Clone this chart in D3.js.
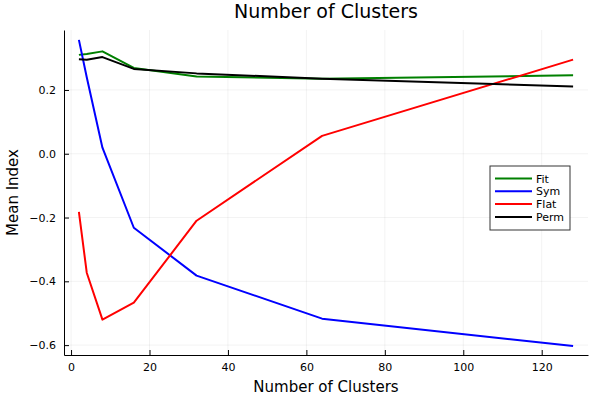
<!DOCTYPE html>
<html>
<head>
<meta charset="utf-8">
<script src="https://cdn.jsdelivr.net/npm/d3@7"></script>
<style>
  body { margin: 0; background: #fff; }
  text { font-family: "DejaVu Sans", sans-serif; }
</style>
</head>
<body>
<svg id="chart" width="600" height="400"></svg>
<script>
// Data
const clusters = [2, 4, 8, 16, 32, 64, 128];
const fit  = [0.310, 0.313, 0.321, 0.269, 0.242, 0.235, 0.246];
const sym  = [0.357, 0.240, 0.019, -0.232, -0.382, -0.517, -0.603];
const flat = [-0.182, -0.373, -0.520, -0.467, -0.210, 0.056, 0.295];
const perm = [0.296, 0.295, 0.303, 0.266, 0.252, 0.235, 0.211];
const seriesNames = ["Fit", "Sym", "Flat", "Perm"];
const seriesColors = ["#008000", "#0000ff", "#ff0000", "#000000"];
const xTicks = [0, 20, 40, 60, 80, 100, 120];
const yTicks = [-0.6, -0.4, -0.2, 0.0, 0.2];

const svg = d3.select("#chart");
const margin = { left: 64, right: 12, top: 30, bottom: 45 };
const width = 600, height = 400;

const x = d3.scaleLinear().domain([-1.8, 131.8]).range([margin.left, width - margin.right]);
const y = d3.scaleLinear().domain([-0.631, 0.388]).range([height - margin.bottom, margin.top]);

// Grid
svg.append("g")
  .selectAll("line.gx")
  .data(xTicks)
  .enter().append("line")
  .attr("x1", d => x(d)).attr("x2", d => x(d))
  .attr("y1", y.range()[0]).attr("y2", y.range()[1])
  .attr("stroke", "#000").attr("stroke-opacity", 0.1).attr("stroke-width", 0.5);
svg.append("g")
  .selectAll("line.gy")
  .data(yTicks)
  .enter().append("line")
  .attr("x1", x.range()[0]).attr("x2", x.range()[1])
  .attr("y1", d => y(d)).attr("y2", d => y(d))
  .attr("stroke", "#000").attr("stroke-opacity", 0.1).attr("stroke-width", 0.5);

// Axes
const fmtY = d => (d < 0 ? "\u2212" : "") + Math.abs(d).toFixed(1);
const xAxis = svg.append("g")
  .attr("transform", `translate(0,${y.range()[0]})`)
  .call(d3.axisBottom(x).tickValues(xTicks).tickSize(-5).tickPadding(8).tickSizeOuter(0));
const yAxis = svg.append("g")
  .attr("transform", `translate(${x.range()[0]},0)`)
  .call(d3.axisLeft(y).tickValues(yTicks).tickFormat(fmtY).tickSize(-5).tickPadding(8).tickSizeOuter(0));
[xAxis, yAxis].forEach(a => {
  a.select(".domain").attr("stroke", "#000").attr("stroke-width", 1);
  a.selectAll(".tick line").attr("stroke", "#000");
  a.selectAll(".tick text").attr("font-size", 11).attr("fill", "#000")
    .attr("font-family", "DejaVu Sans, sans-serif");
});

// Lines
const allSeries = [fit, sym, flat, perm];
const line = d3.line().x((d, i) => x(clusters[i])).y(d => y(d));
allSeries.forEach((vals, k) => {
  svg.append("path")
    .datum(vals)
    .attr("d", line)
    .attr("fill", "none")
    .attr("stroke", seriesColors[k])
    .attr("stroke-width", 2)
    .attr("stroke-linejoin", "round");
});

// Titles
svg.append("text").attr("x", (x.range()[0] + x.range()[1]) / 2).attr("y", 18)
  .attr("text-anchor", "middle").attr("font-size", 19).text("Number of Clusters");
svg.append("text").attr("x", (x.range()[0] + x.range()[1]) / 2).attr("y", 392)
  .attr("text-anchor", "middle").attr("font-size", 15).text("Number of Clusters");
svg.append("text")
  .attr("transform", `translate(17.5,${(y.range()[0] + y.range()[1]) / 2}) rotate(-90)`)
  .attr("text-anchor", "middle").attr("font-size", 15).text("Mean Index");

// Legend
const legend = svg.append("g").attr("transform", "translate(490,166)");
legend.append("rect").attr("width", 80).attr("height", 64)
  .attr("fill", "#fff").attr("stroke", "#000").attr("stroke-opacity", 0.8).attr("stroke-width", 1);
seriesNames.forEach((name, k) => {
  const ly = 12.5 + k * 12.8;
  legend.append("line").attr("x1", 5).attr("x2", 42).attr("y1", ly).attr("y2", ly)
    .attr("stroke", seriesColors[k]).attr("stroke-width", 2);
  legend.append("text").attr("x", 46).attr("y", ly + 4).attr("font-size", 11).text(name);
});
</script>
</body>
</html>
